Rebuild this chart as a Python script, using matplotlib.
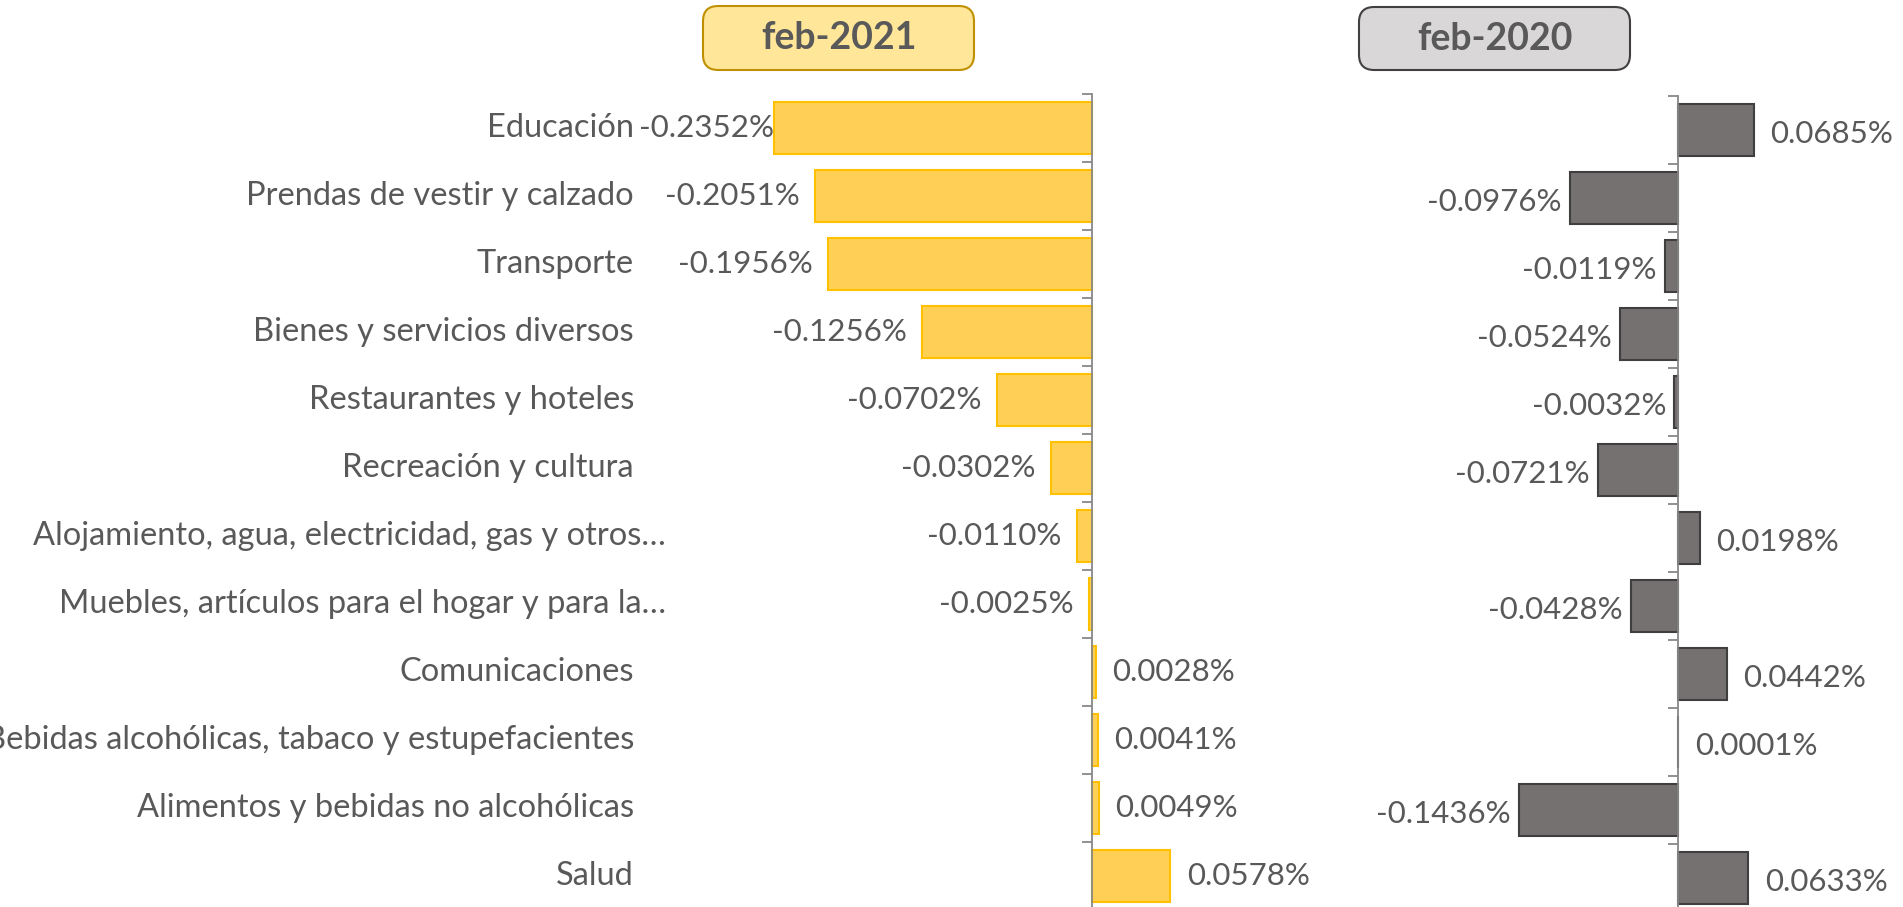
import matplotlib
matplotlib.use("Agg")
import matplotlib.pyplot as plt
import matplotlib.transforms as mtransforms
from matplotlib.patches import FancyBboxPatch

plt.rcParams['font.family'] = ['Lato', 'DejaVu Sans']

categories = [
    "Educación",
    "Prendas de vestir y calzado",
    "Transporte",
    "Bienes y servicios diversos",
    "Restaurantes y hoteles",
    "Recreación y cultura",
    "Alojamiento, agua, electricidad, gas y otros…",
    "Muebles, artículos para el hogar y para la…",
    "Comunicaciones",
    "Bebidas alcohólicas, tabaco y estupefacientes",
    "Alimentos y bebidas no alcohólicas",
    "Salud",
]
feb_2021 = [-0.2352, -0.2051, -0.1956, -0.1256, -0.0702, -0.0302,
            -0.0110, -0.0025, 0.0028, 0.0041, 0.0049, 0.0578]
feb_2020 = [0.0685, -0.0976, -0.0119, -0.0524, -0.0032, -0.0721,
            0.0198, -0.0428, 0.0442, 0.0001, -0.1436, 0.0633]
titles = ["feb-2021", "feb-2020"]

TXT = "#595959"
W, H = 1903, 907

fig = plt.figure(figsize=(W / 100, H / 100), dpi=100)


def px_axes(x0, x1, y_top, y_bot):
    return fig.add_axes([x0 / W, 1 - y_bot / H, (x1 - x0) / W, (y_bot - y_top) / H])


ax1 = px_axes(650, 1330, 94, 910)
ax2 = px_axes(1180, 1903, 96, 912)
ax1.set_xlim(-0.3269, 0.176)
ax2.set_xlim(-0.4507, 0.2036)

n = len(categories)
ypos = list(range(n))

# (axes, values, fill, edge, label shift y, gap for negatives, gap for positives)
for ax, vals, fc, ec, dy, gneg, gpos in [
    (ax1, feb_2021, "#FFD055", "#FFC000", 0, 11, 12),
    (ax2, feb_2020, "#767171", "#3F3F3F", -3, 6, 12),
]:
    ax.patch.set_visible(False)
    ax.barh(ypos, vals, height=0.765, color=fc, edgecolor=ec, linewidth=1.5)
    ax.set_ylim(n - 0.5, -0.5)
    for s in ["top", "right", "bottom"]:
        ax.spines[s].set_visible(False)
    ax.spines["left"].set_position(("data", 0))
    ax.spines["left"].set_color("#888888")
    ax.spines["left"].set_linewidth(1.3)
    ax.set_xticks([])
    ax.set_yticks([i - 0.5 for i in range(n + 1)])
    ax.set_yticklabels([])
    ax.tick_params(axis="y", length=7, width=1.3, color="#888888", direction="out")
    lo = ax.get_xlim()[0]
    for i, v in enumerate(vals):
        if v >= 0:
            off = gpos
        else:
            # the longest bar keeps its label tight to the bar end, as in the source
            off = 0 if v < 0.7 * lo else -gneg
        ax.annotate(f"{v:.4f}%", (v, i), xytext=(off, dy), textcoords="offset points",
                    ha="left" if v >= 0 else "right", va="center",
                    fontsize=22.5, color=TXT, annotation_clip=False)

# category labels
trans = mtransforms.blended_transform_factory(fig.transFigure, ax1.transData)
for i, c in enumerate(categories):
    xr = 666 if c.endswith("…") else 634
    ax1.text(xr / W, i, c, transform=trans, ha="right", va="center",
             fontsize=23.5, color=TXT, clip_on=False)

# title boxes
for (x0, x1, y0, y1), t, fc, ec in [
    ((703, 974, 6, 70), titles[0], "#FFE699", "#BF9000"),
    ((1359, 1630, 7, 70), titles[1], "#D9D7D8", "#404040"),
]:
    box = FancyBboxPatch((x0 / W, 1 - y1 / H), (x1 - x0) / W, (y1 - y0) / H,
                         boxstyle="round,pad=0,rounding_size=0.008",
                         transform=fig.transFigure, facecolor=fc, edgecolor=ec,
                         linewidth=1.5, mutation_aspect=W / H)
    fig.patches.append(box)
    fig.text((x0 + x1) / 2 / W, 1 - (y0 + y1) / 2 / H, t, ha="center", va="center",
             fontsize=27, fontweight="bold", color=TXT)

fig.savefig("out.png", dpi=100)
